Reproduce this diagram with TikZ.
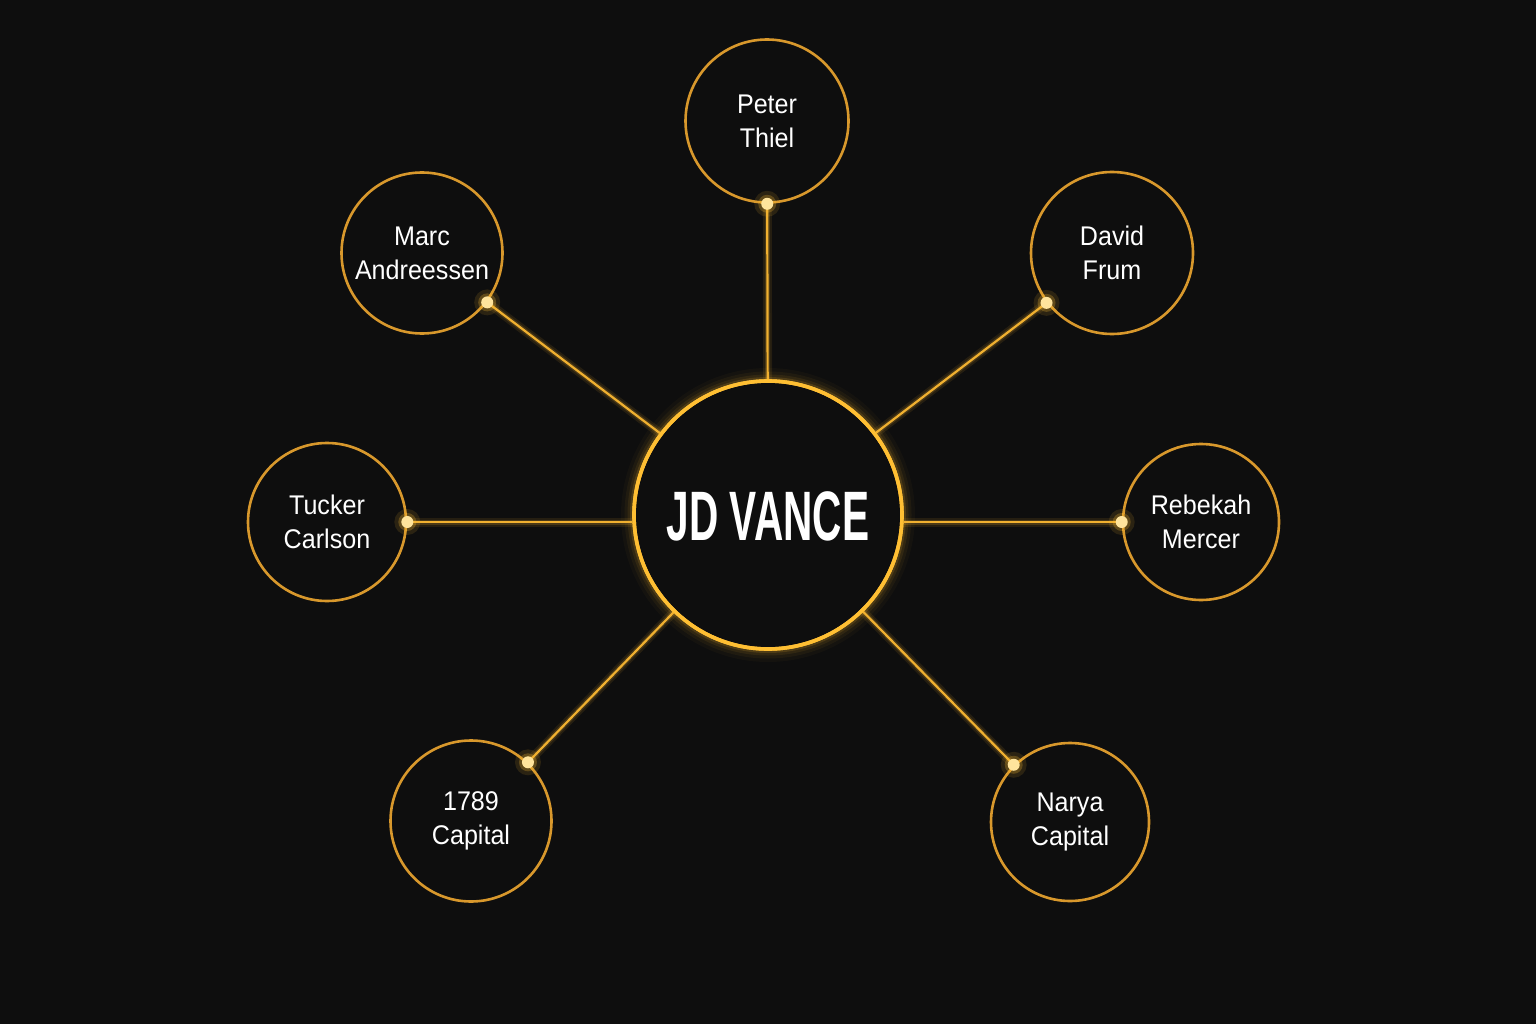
\documentclass[tikz,border=0pt]{standalone}
\usepackage{fontspec}
\setmainfont{Liberation Sans}
\newfontfamily\labelfont[FakeStretch=0.93]{Liberation Sans}
\definecolor{bg}{HTML}{0E0E0E}
\definecolor{ringc}{HTML}{D8982C}
\definecolor{corec}{HTML}{FFBF33}
\definecolor{linec}{HTML}{F0B030}
\definecolor{dotc}{HTML}{FFE49C}
\tikzset{
  person/.style={circle, draw=ringc, line width=2.6pt, fill=bg, minimum size=#1, inner sep=0pt,
    text=white, align=center, font=\labelfont\fontsize{27}{34}\selectfont},
  hub/.style={circle, draw=corec, line width=3.6pt, fill=bg, minimum size=268pt, inner sep=0pt, text=white},
  link/.style={draw=linec, line width=2.2pt,
    preaction={draw=linec, line width=9pt, opacity=0.10},
    preaction={draw=linec, line width=5pt, opacity=0.18}},
  dotglow/.style={circle, fill=corec, opacity=#1, minimum size=22pt, inner sep=0pt},
  dotcore/.style={circle, fill=dotc, minimum size=12pt, inner sep=0pt},
}
\begin{document}
\begin{tikzpicture}[x=1pt,y=-1pt]
\fill[bg] (0,0) rectangle (1536,1024);
\useasboundingbox (0,0) rectangle (1536,1024);
% glow of hub
\foreach \w/\o in {26/0.03, 19/0.05, 13/0.08, 8/0.14}
  \draw[corec, line width=\w pt, opacity=\o] (768,515) circle (134);
% nodes
\node[hub] (hub) at (768,515) {};
\node[person=163pt] (thiel) at (767,121) {Peter\\Thiel};
\node[person=161pt] (marc) at (422,253) {Marc\\Andreessen};
\node[person=162pt] (frum) at (1112,253) {David\\Frum};
\node[person=158pt] (tucker) at (327,522) {Tucker\\Carlson};
\node[person=156pt] (mercer) at (1201,522) {Rebekah\\Mercer};
\node[person=161pt] (cap1789) at (471,821) {1789\\Capital};
\node[person=158pt] (narya) at (1070,822) {Narya\\Capital};
% connectors
\foreach \n in {thiel,marc,frum,cap1789,narya}{
  \path[link] (\n) -- (hub) coordinate[pos=0] (d-\n);
}
\path[link] (tucker.east) coordinate (d-tucker) -- (tucker.east -| hub.west);
\path[link] (mercer.west) coordinate (d-mercer) -- (mercer.west -| hub.east);
% redraw hub ring on top of glows of lines
\draw[corec, line width=3.6pt] (hub.center) circle (134);
\node[text=white, font=\fontsize{70}{70}\bfseries\selectfont] (title) at (768,516) {\scalebox{0.58}[1]{JD VANCE}};
% dots
\foreach \n in {thiel,marc,frum,tucker,mercer,cap1789,narya}{
  \node[dotglow=0.12, minimum size=26pt] (h-\n) at (d-\n) {};
  \node[dotglow=0.25, minimum size=18pt] (g-\n) at (d-\n) {};
  \node[dotcore] (c-\n) at (d-\n) {};
}
\end{tikzpicture}
\end{document}
